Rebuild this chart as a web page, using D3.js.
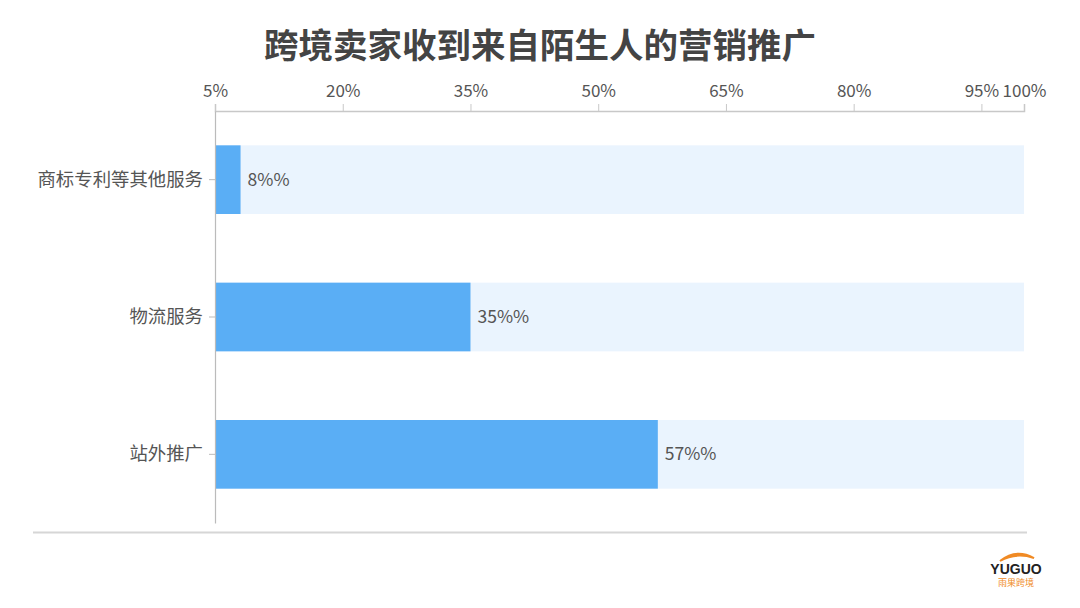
<!DOCTYPE html>
<html><head><meta charset="utf-8">
<script src="https://cdn.jsdelivr.net/npm/d3@7/dist/d3.min.js"></script>
<style>body{margin:0;background:#fff}svg{display:block}</style>
</head><body><svg id="c" width="1080" height="608"></svg>
<script>
const title = "跨境卖家收到来自陌生人的营销推广";
const categories = ["商标专利等其他服务", "物流服务", "站外推广"];
const values = [8, 35, 57];
const valueLabels = ["8%%", "35%%", "57%%"];
const tickValues = [5, 20, 35, 50, 65, 80, 95, 100];
const tickLabels = ["5%", "20%", "35%", "50%", "65%", "80%", "95%", "100%"];
const domainMax = 100;

const svg = d3.select("#c");
const font = "'Noto Sans CJK SC','Noto Sans',sans-serif";
const pLeft = 215, pRight = 1024, pTop = 111, pBottom = 523;

svg.append("text").attr("x", 540).attr("y", 58).attr("text-anchor", "middle")
  .attr("font-family", font).attr("font-size", 34.5).attr("font-weight", "bold")
  .attr("fill", "#444").text(title);

const x = d3.scaleLinear().domain([tickValues[0], domainMax]).range([pLeft, pRight]);
const y = d3.scaleBand().domain(categories).range([pTop, pBottom]).paddingInner(0.5).paddingOuter(0.25);

svg.append("g").selectAll("rect").data(categories).join("rect")
  .attr("x", pLeft).attr("y", d => y(d)).attr("width", pRight - pLeft)
  .attr("height", y.bandwidth()).attr("fill", "#eaf4fe");

svg.append("g").selectAll("rect").data(values).join("rect")
  .attr("x", pLeft).attr("y", (d, i) => y(categories[i]))
  .attr("width", d => x(d) - pLeft).attr("height", y.bandwidth()).attr("fill", "#5aaef5");

svg.append("g").selectAll("text").data(values).join("text")
  .attr("x", d => x(d) + 7).attr("y", (d, i) => y(categories[i]) + y.bandwidth() / 2)
  .attr("dy", "0.35em").attr("font-family", font).attr("font-size", 17.5)
  .attr("fill", "#555").text((d, i) => valueLabels[i]);

const xa = svg.append("g").attr("transform", `translate(0,${pTop})`)
  .call(d3.axisTop(x).tickValues(tickValues).tickFormat((d, i) => tickLabels[i]).tickSizeOuter(0).tickSize(7).tickPadding(7));
xa.select(".domain").attr("stroke", "#c8c8c8").attr("stroke-width", 1.5);
xa.selectAll(".tick line").attr("stroke", "#c8c8c8");
xa.selectAll(".tick text").attr("font-family", font).attr("font-size", 17).attr("fill", "#555");

const ya = svg.append("g").attr("transform", `translate(${pLeft},0)`)
  .call(d3.axisLeft(y).tickSize(6).tickSizeOuter(0).tickPadding(6));
ya.select(".domain").attr("stroke", "#bbb").attr("stroke-width", 1.2);
ya.selectAll(".tick line").attr("stroke", "#bbb");
ya.selectAll(".tick text").attr("font-family", font).attr("font-size", 18.4).attr("fill", "#555");

svg.append("line").attr("x1", 33).attr("x2", 1027).attr("y1", 532.5).attr("y2", 532.5)
  .attr("stroke", "#d6d6d6").attr("stroke-width", 2);

const lg = svg.append("g");
lg.append("path").attr("d", "M1000,561 Q1016,548 1034,558 Q1016,552 1000,561 Z")
  .attr("fill", "#f08a24").attr("stroke", "#f08a24").attr("stroke-width", 2);
lg.append("text").attr("x", 1016).attr("y", 574).attr("text-anchor", "middle")
  .attr("font-family", "'Liberation Sans',Arial,sans-serif").attr("font-weight", "bold")
  .attr("font-size", 14).attr("fill", "#222").text("YUGUO");
lg.append("text").attr("x", 1016).attr("y", 586).attr("text-anchor", "middle")
  .attr("font-family", font).attr("font-size", 9).attr("fill", "#f08a24").text("雨果跨境");
</script></body></html>
